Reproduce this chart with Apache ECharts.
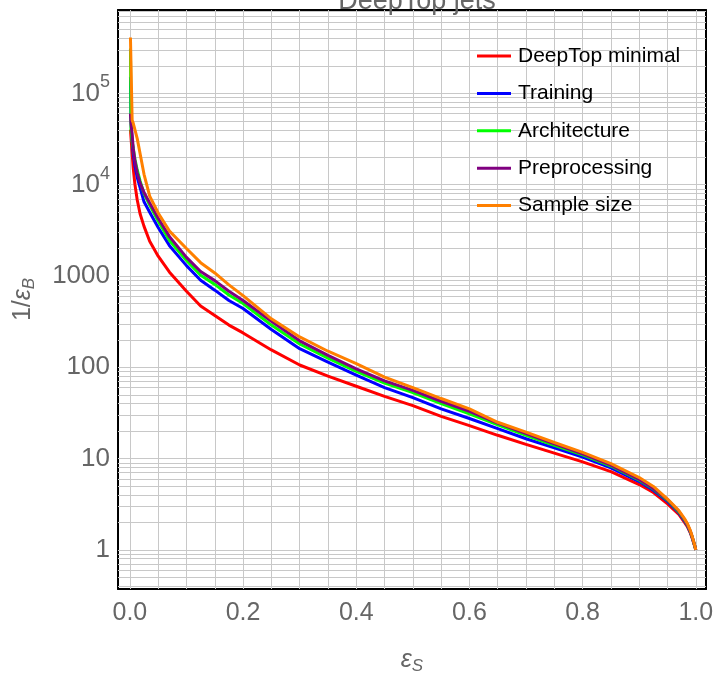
<!DOCTYPE html>
<html>
<head>
<meta charset="utf-8">
<script src="https://cdn.jsdelivr.net/npm/echarts@6/dist/echarts.min.js"></script>
<style>html,body{margin:0;padding:0;background:#fff;}#c{width:717px;height:680px;}</style>
</head>
<body>
<div id="c"></div>
<script>
// Signal efficiency (x) shared by all curves
var effS = [0.001, 0.002, 0.004, 0.006, 0.009, 0.013, 0.018, 0.025, 0.035, 0.05, 0.07, 0.1, 0.125, 0.15, 0.175, 0.2, 0.25, 0.3, 0.35, 0.4, 0.45, 0.5, 0.55, 0.6, 0.65, 0.7, 0.75, 0.8, 0.85, 0.9, 0.925, 0.95, 0.97, 0.98, 0.985, 0.99, 0.993, 0.996, 0.998, 1.0];
// 1/epsilon_B per curve
var deepTopMinimal = [40000, 33000, 22000, 15000, 10000, 6800, 4800, 3500, 2400, 1650, 1100, 680, 470, 370, 290, 238, 155, 106, 80, 62, 48, 38, 29, 23, 18, 14.3, 11.5, 9.2, 7.2, 5.2, 4.25, 3.2, 2.45, 2.0, 1.8, 1.55, 1.38, 1.2, 1.1, 1];
var training = [150000, 50000, 30000, 22000, 16000, 12000, 9300, 6500, 5000, 3400, 2150, 1300, 900, 700, 540, 440, 260, 160, 114, 82, 60, 46.5, 35, 27.5, 21.3, 16.5, 13.1, 10.4, 7.9, 5.6, 4.5, 3.4, 2.55, 2.08, 1.85, 1.58, 1.4, 1.22, 1.11, 1];
var architecture = [310000, 40000, 30000, 25000, 19000, 14500, 11000, 8000, 6000, 4000, 2450, 1480, 1020, 810, 620, 500, 290, 180, 126, 90, 67, 53, 40, 31, 23.5, 18, 14, 11, 8.3, 5.8, 4.65, 3.5, 2.6, 2.12, 1.88, 1.6, 1.42, 1.23, 1.11, 1];
var preprocessing = [60000, 47000, 35000, 25000, 18000, 13500, 10500, 8200, 6300, 4300, 2700, 1600, 1120, 890, 680, 540, 320, 195, 135, 96, 71, 56, 42.5, 33, 24.5, 18.8, 14.5, 11.3, 8.5, 5.9, 4.7, 3.55, 2.65, 2.15, 1.9, 1.62, 1.43, 1.24, 1.12, 1];
var sampleSize = [410000, 410000, 51000, 47000, 45000, 32000, 22000, 13000, 7500, 4900, 3100, 2000, 1400, 1080, 800, 610, 340, 215, 150, 110, 78, 60, 45.5, 35, 25, 19.5, 15, 11.7, 8.8, 6.2, 4.95, 3.6, 2.7, 2.2, 1.95, 1.65, 1.45, 1.25, 1.12, 1];

var seriesNames = ['DeepTop minimal', 'Training', 'Architecture', 'Preprocessing', 'Sample size'];
var seriesColors = ['#ff0000', '#0000ff', '#00ff00', '#800080', '#ff8000'];
var seriesValues = [deepTopMinimal, training, architecture, preprocessing, sampleSize];

var xLabelValues = [0, 0.2, 0.4, 0.6, 0.8, 1.0];
var xGridValues = [0, 0.05, 0.1, 0.15, 0.2, 0.25, 0.3, 0.35, 0.4, 0.45, 0.5, 0.55, 0.6, 0.65, 0.7, 0.75, 0.8, 0.85, 0.9, 0.95, 1.0];
var yLabelValues = [1, 10, 100, 1000, 10000, 100000];
var yMinorMultipliers = [1, 2, 3, 4, 5, 6, 7, 8, 9];
var yDecades = [0.1, 1, 10, 100, 1000, 10000, 100000];

var X_MIN = -0.021, X_MAX = 1.018, Y_MIN = 0.373, Y_MAX = 820000;

var yGridValues = [];
yDecades.forEach(function (d) {
  yMinorMultipliers.forEach(function (m) {
    var v = +(m * d).toPrecision(6);
    if (v >= Y_MIN && v <= Y_MAX) yGridValues.push(v);
  });
});

var FONT = "'Liberation Sans', Arial, sans-serif";
var gridColor = '#c8c8c8';

var chart = echarts.init(document.getElementById('c'), null, {renderer: 'canvas'});

function zip(xs, ys) { return xs.map(function (x, i) { return [x, ys[i]]; }); }

var series = seriesNames.map(function (name, i) {
  var s = {
    name: name,
    type: 'line',
    data: zip(effS, seriesValues[i]),
    showSymbol: false,
    symbol: 'none',
    smooth: false,
    z: 3,
    lineStyle: {color: seriesColors[i], width: 3},
    itemStyle: {color: seriesColors[i]},
    animation: false
  };
  if (i === 0) {
    s.markLine = {
      silent: true,
      symbol: ['none', 'none'],
      z: 1,
      animation: false,
      label: {show: false},
      lineStyle: {color: gridColor, width: 1, type: 'solid'},
      emphasis: {disabled: true},
      data: xGridValues.map(function (v) { return {xAxis: v}; })
        .concat(yGridValues.map(function (v) { return {yAxis: v}; }))
    };
  }
  return s;
});

function yFmt(v) {
  if (v >= 10000) {
    var e = Math.round(Math.log10(v));
    return '10{sup|' + e + '}';
  }
  return String(Math.round(v));
}

var tickStyle = {show: true, inside: true, length: 6, lineStyle: {color: '#333', width: 1}};
var frameLine = {show: true, onZero: false, lineStyle: {color: '#000', width: 2}};

var option = {
  backgroundColor: '#fff',
  animation: false,
  title: {
    text: 'DeepTop jets',
    left: 412, textAlign: 'center',
    top: -17,
    textStyle: {fontFamily: FONT, fontSize: 27, fontWeight: 'normal', color: '#666'}
  },
  legend: {
    orient: 'vertical',
    left: 472, top: 40,
    icon: 'rect',
    itemWidth: 34, itemHeight: 3, itemGap: 15.4,
    data: seriesNames,
    textStyle: {fontFamily: FONT, fontSize: 21, color: '#000', lineHeight: 22, padding: [0, 0, 0, 2]}
  },
  grid: {left: 118, right: 11, top: 10, bottom: 81, containLabel: false},
  xAxis: [{
    type: 'value', min: X_MIN, max: X_MAX, position: 'bottom',
    name: '{e|ε}{sub|S}', nameLocation: 'middle', nameGap: 57,
    nameTextStyle: {fontFamily: FONT, color: '#666', rich: {
      e: {fontSize: 25, fontStyle: 'italic', fontFamily: FONT, color: '#666'},
      sub: {fontSize: 17, fontStyle: 'italic', fontFamily: FONT, color: '#666', padding: [12, 0, 0, 0]}
    }},
    axisLine: frameLine,
    axisTick: Object.assign({}, tickStyle, {customValues: xGridValues}),
    axisLabel: {customValues: xLabelValues, margin: 12, fontFamily: FONT, fontSize: 25, color: '#666',
      formatter: function (v) { return v.toFixed(1); }},
    splitLine: {show: false}
  }, {
    type: 'value', min: X_MIN, max: X_MAX, position: 'top',
    axisLine: frameLine,
    axisTick: Object.assign({}, tickStyle, {customValues: xGridValues}),
    axisLabel: {show: false},
    splitLine: {show: false}
  }],
  yAxis: [{
    type: 'log', logBase: 10, min: Y_MIN, max: Y_MAX, position: 'left',
    name: '1/{e|ε}{sub|B}', nameLocation: 'middle', nameGap: 80,
    nameTextStyle: {fontFamily: FONT, fontSize: 25, color: '#666', rich: {
      e: {fontSize: 25, fontStyle: 'italic', fontFamily: FONT, color: '#666'},
      sub: {fontSize: 17, fontStyle: 'italic', fontFamily: FONT, color: '#666', padding: [12, 0, 0, 0]}
    }},
    axisLine: frameLine,
    axisTick: Object.assign({}, tickStyle, {customValues: yGridValues}),
    axisLabel: {customValues: yLabelValues, margin: 8, fontFamily: FONT, fontSize: 26, color: '#666',
      formatter: yFmt,
      rich: {sup: {fontSize: 18, fontFamily: FONT, color: '#666', padding: [0, 0, 22, 0]}}},
    splitLine: {show: false}
  }, {
    type: 'log', logBase: 10, min: Y_MIN, max: Y_MAX, position: 'right',
    axisLine: frameLine,
    axisTick: Object.assign({}, tickStyle, {customValues: yGridValues}),
    axisLabel: {show: false},
    splitLine: {show: false}
  }],
  series: series
};

chart.setOption(option);
</script>
</body>
</html>
